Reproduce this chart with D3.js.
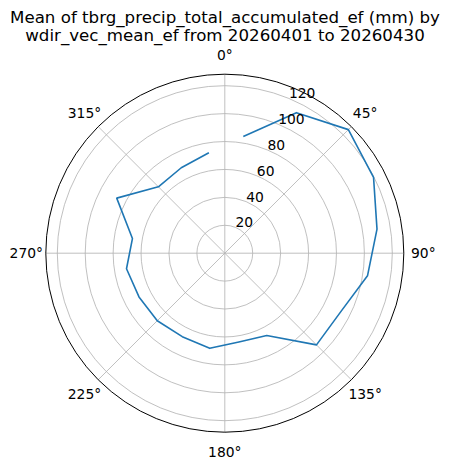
<!DOCTYPE html>
<html>
<head>
<meta charset="utf-8">
<script src="https://cdn.jsdelivr.net/npm/d3@7"></script>
<style>
  html, body { margin: 0; padding: 0; background: #fff; }
  svg { display: block; font-family: "DejaVu Sans", sans-serif; }
</style>
</head>
<body>
<svg id="chart" width="450" height="469"></svg>
<script>
// Data: wind direction bin centres (deg) and mean precipitation (mm)
const directions = [9, 27, 45, 63, 81, 99, 117, 135, 153, 171, 189, 207, 225, 243, 261, 279, 297, 315, 333, 351];
const precipMean = [84.7, 113.0, 125.2, 119.6, 110.4, 103.5, 93.0, 92.9, 66.2, 64.4, 69.0, 67.1, 68.4, 69.0, 71.3, 67.0, 86.9, 67.3, 68.7, 72.9];
const radialTicks = [20, 40, 60, 80, 100, 120];
const angleTicks = [0, 45, 90, 135, 180, 225, 270, 315];
const titleLines = ["Mean of tbrg_precip_total_accumulated_ef (mm) by", "wdir_vec_mean_ef from 20260401 to 20260430"];

const svg = d3.select("#chart");
const cx = 224.8, cy = 253.2, R = 179;

const vmax = d3.max(precipMean), vmin = d3.min(precipMean);
const rmax = vmax + 0.05 * (vmax - vmin);
const r = d3.scaleLinear().domain([0, rmax]).range([0, R]);
const theta = d3.scaleLinear().domain([0, 360]).range([0, 2 * Math.PI]);

const g = svg.append("g").attr("transform", `translate(${cx},${cy})`);

// grid rings
g.selectAll("circle.ring").data(radialTicks).join("circle")
  .attr("class", "ring")
  .attr("r", d => r(d))
  .attr("fill", "none")
  .attr("stroke", "#b0b0b0")
  .attr("stroke-width", 0.8);

// spokes
g.selectAll("line.spoke").data(angleTicks).join("line")
  .attr("class", "spoke")
  .attr("x1", 0).attr("y1", 0)
  .attr("x2", d => R * Math.sin(theta(d)))
  .attr("y2", d => -R * Math.cos(theta(d)))
  .attr("stroke", "#b0b0b0")
  .attr("stroke-width", 0.8);

// outer frame
g.append("circle").attr("r", R).attr("fill", "none").attr("stroke", "#000").attr("stroke-width", 1);

// data line
const line = d3.lineRadial()
  .angle((d, i) => theta(directions[i]))
  .radius(d => r(d));
g.append("path")
  .datum(precipMean)
  .attr("d", line)
  .attr("fill", "none")
  .attr("stroke", "#1f77b4")
  .attr("stroke-width", 1.6)
  .attr("stroke-linejoin", "round");

// radial tick labels at 22.5 deg
const rlab = theta(22.5);
g.selectAll("text.rlab").data(radialTicks).join("text")
  .attr("class", "rlab")
  .attr("x", d => r(d) * Math.sin(rlab))
  .attr("y", d => -r(d) * Math.cos(rlab))
  .attr("text-anchor", "start")
  .attr("font-size", "13.89px")
  .attr("fill", "#000")
  .text(d => d);

// angular labels
const LR = 198.5;
g.selectAll("text.alab").data(angleTicks).join("text")
  .attr("class", "alab")
  .attr("x", d => LR * Math.sin(theta(d)))
  .attr("y", d => -LR * Math.cos(theta(d)))
  .attr("text-anchor", "middle")
  .attr("dominant-baseline", "central")
  .attr("font-size", "13.89px")
  .attr("fill", "#000")
  .text(d => d + "°");

// title
svg.selectAll("text.title").data(titleLines).join("text")
  .attr("class", "title")
  .attr("x", 225)
  .attr("y", (d, i) => 22.5 + i * 18.8)
  .attr("text-anchor", "middle")
  .attr("font-size", "16.67px")
  .attr("fill", "#000")
  .text(d => d);
</script>
</body>
</html>
